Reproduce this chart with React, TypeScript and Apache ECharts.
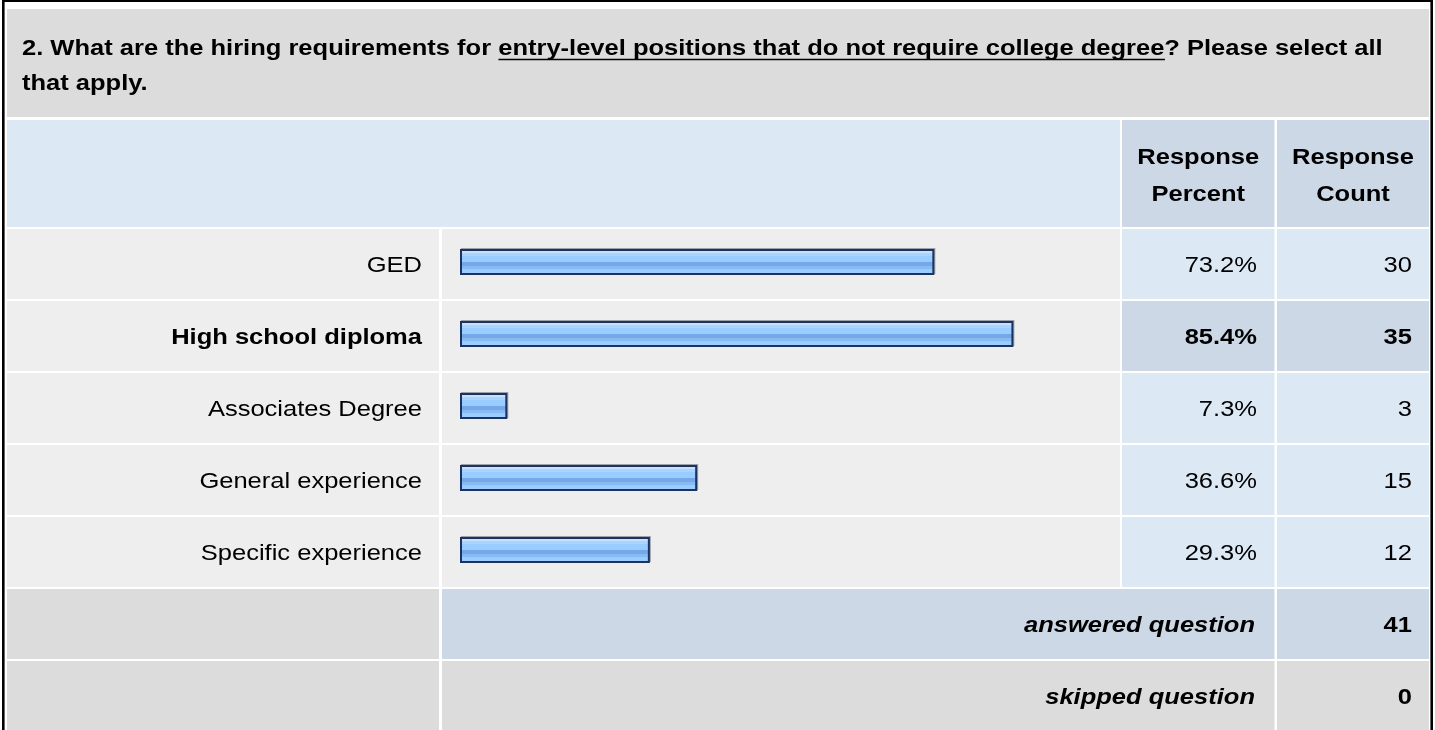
import React, { useEffect, useRef } from "react";
import * as echarts from "echarts";

const questionLine1 =
  "2. What are the hiring requirements for entry-level positions that do not require college degree? Please select all";
const questionLine2 = "that apply.";
const underlinedPrefix = "2. What are the hiring requirements for ";
const underlinedPart = "entry-level positions that do not require college degree";
const headerPercent = ["Response", "Percent"];
const headerCount = ["Response", "Count"];
const categories = [
  "GED",
  "High school diploma",
  "Associates Degree",
  "General experience",
  "Specific experience",
];
const percents = [73.2, 85.4, 7.3, 36.6, 29.3];
const counts = [30, 35, 3, 15, 12];
const answeredLabel = "answered question";
const answeredCount = 41;
const skippedLabel = "skipped question";
const skippedCount = 0;

const FONT = "'Liberation Sans', Arial, sans-serif";
const FS = 22;
const SX = 1.16;

const C_GRAY = "#dcdcdc";
const C_ROW = "#eeeeee";
const C_LIGHT = "#dde8f5";
const C_DARK = "#ccd8e6";

function measure(text: string, font: string): number {
  const cv = document.createElement("canvas");
  const ctx = cv.getContext("2d");
  if (!ctx) return 0;
  ctx.font = font;
  return ctx.measureText(text).width;
}

export default function App() {
  const ref = useRef<HTMLDivElement>(null);

  useEffect(() => {
    if (!ref.current) return;
    const chart = echarts.init(ref.current, null, { renderer: "svg" });

    const maxIdx = counts.indexOf(Math.max(...counts));
    const rowTop = 229;
    const pitch = 72;
    const rowH = 70;
    const colLabel = [7, 439];
    const colBar = [442, 1120];
    const colPct = [1122, 1274.5];
    const colCnt = [1277, 1429];

    const rect = (x0: number, y0: number, x1: number, y1: number, fill: string) => ({
      type: "rect",
      z: 0,
      silent: true,
      shape: { x: x0, y: y0, width: x1 - x0, height: y1 - y0 },
      style: { fill },
    });
    const text = (
      t: string,
      x: number,
      y: number,
      align: string,
      weight: string = "normal",
      italic = false
    ) => ({
      type: "text",
      z: 100,
      silent: true,
      x,
      y,
      scaleX: SX,
      style: {
        text: t,
        fill: "#000",
        font: `${italic ? "italic " : ""}${weight} ${FS}px ${FONT}`,
        align,
        verticalAlign: "middle",
      },
    });

    const els: any[] = [];
    // frame
    els.push({
      type: "rect",
      z: 0,
      silent: true,
      shape: { x: 3.3, y: 0.8, width: 1428.4, height: 800 },
      style: { fill: "#ffffff", stroke: "#000000", lineWidth: 2.6 },
    });
    // title
    els.push(rect(colLabel[0], 9, colCnt[1], 117, C_GRAY));
    els.push(text(questionLine1, 22, 47, "left", "bold"));
    els.push(text(questionLine2, 22, 82, "left", "bold"));
    const tf = `bold ${FS}px ${FONT}`;
    const ux0 = 22 + measure(underlinedPrefix, tf) * SX;
    const ux1 = ux0 + measure(underlinedPart, tf) * SX;
    els.push({
      type: "line",
      z: 100,
      silent: true,
      shape: { x1: ux0, y1: 59.5, x2: ux1, y2: 59.5 },
      style: { stroke: "#000", lineWidth: 1.6 },
    });
    // header row
    els.push(rect(colLabel[0], 120, colBar[1], 227, C_LIGHT));
    els.push(rect(colPct[0], 120, colPct[1], 227, C_DARK));
    els.push(rect(colCnt[0], 120, colCnt[1], 227, C_DARK));
    const pcx = (colPct[0] + colPct[1]) / 2;
    const ccx = (colCnt[0] + colCnt[1]) / 2;
    els.push(text(headerPercent[0], pcx, 156, "center", "bold"));
    els.push(text(headerPercent[1], pcx, 193, "center", "bold"));
    els.push(text(headerCount[0], ccx, 156, "center", "bold"));
    els.push(text(headerCount[1], ccx, 193, "center", "bold"));

    // data rows
    categories.forEach((cat, i) => {
      const y0 = rowTop + pitch * i;
      const y1 = y0 + rowH;
      const cy = (y0 + y1) / 2;
      const hl = i === maxIdx;
      els.push(rect(colLabel[0], y0, colLabel[1], y1, C_ROW));
      els.push(rect(colBar[0], y0, colBar[1], y1, C_ROW));
      els.push(rect(colPct[0], y0, colPct[1], y1, hl ? C_DARK : C_LIGHT));
      els.push(rect(colCnt[0], y0, colCnt[1], y1, hl ? C_DARK : C_LIGHT));
      const w = hl ? "bold" : "normal";
      els.push(text(cat, 422, cy, "right", w));
      els.push(text(percents[i].toFixed(1) + "%", 1257, cy, "right", w));
      els.push(text(String(counts[i]), 1412, cy, "right", w));
    });

    // answered row
    const ay0 = rowTop + pitch * categories.length;
    const ay1 = ay0 + rowH;
    els.push(rect(colLabel[0], ay0, colLabel[1], ay1, C_GRAY));
    els.push(rect(colBar[0], ay0, colPct[1], ay1, C_DARK));
    els.push(rect(colCnt[0], ay0, colCnt[1], ay1, C_DARK));
    els.push(text(answeredLabel, 1255, (ay0 + ay1) / 2, "right", "bold", true));
    els.push(text(String(answeredCount), 1412, (ay0 + ay1) / 2, "right", "bold"));

    // skipped row
    const sy0 = ay0 + pitch;
    const sy1 = 731;
    els.push(rect(colLabel[0], sy0, colLabel[1], sy1, C_GRAY));
    els.push(rect(colBar[0], sy0, colPct[1], sy1, C_GRAY));
    els.push(rect(colCnt[0], sy0, colCnt[1], sy1, C_GRAY));
    els.push(text(skippedLabel, 1255, sy0 + rowH / 2, "right", "bold", true));
    els.push(text(String(skippedCount), 1412, sy0 + rowH / 2, "right", "bold"));

    const barFill = new echarts.graphic.LinearGradient(0, 0, 0, 1, [
      { offset: 0, color: "#c4e1fd" },
      { offset: 0.13, color: "#c4e1fd" },
      { offset: 0.13, color: "#acd3fb" },
      { offset: 0.27, color: "#acd3fb" },
      { offset: 0.27, color: "#99ccff" },
      { offset: 0.5, color: "#99ccff" },
      { offset: 0.5, color: "#74a8e8" },
      { offset: 0.68, color: "#74a8e8" },
      { offset: 0.68, color: "#88bbf4" },
      { offset: 0.8, color: "#88bbf4" },
      { offset: 0.8, color: "#99ccff" },
      { offset: 1, color: "#99ccff" },
    ]);

    chart.setOption({
      animation: false,
      grid: { left: 460, top: 226, width: 648, height: 360 },
      xAxis: { type: "value", min: 0, max: 100, show: false },
      yAxis: { type: "category", data: categories, inverse: true, show: false },
      graphic: { elements: els },
      series: [
        {
          type: "bar",
          data: percents,
          barWidth: 26,
          silent: true,
          z: 50,
          itemStyle: {
            color: barFill,
            borderColor: "#1b3360",
            borderWidth: 2,
            shadowColor: "rgba(60,70,90,0.45)",
            shadowOffsetX: 1,
            shadowOffsetY: -1,
            shadowBlur: 0,
          },
        },
      ],
    });

    return () => chart.dispose();
  }, []);

  return (
    <div
      ref={ref}
      style={{ position: "fixed", left: 0, top: 0, width: 1435, height: 730 }}
    />
  );
}
